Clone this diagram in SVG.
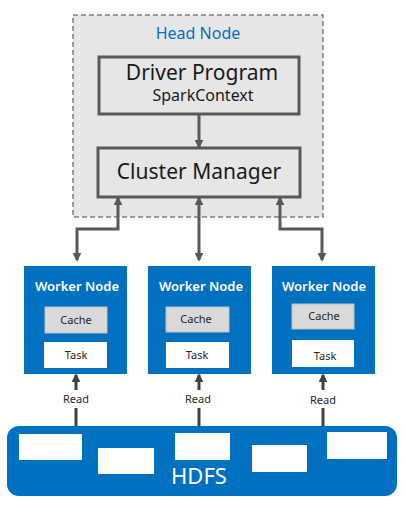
<svg xmlns="http://www.w3.org/2000/svg" width="405" height="507" viewBox="0 0 405 507">
<defs>
<marker id="ah" markerWidth="3" markerHeight="3" refX="2.4" refY="1.5" orient="auto-start-reverse" markerUnits="strokeWidth">
<path d="M0,0 L3,1.5 L0,3 Z" fill="#595959"/>
</marker>
<marker id="ahd" markerWidth="3" markerHeight="3" refX="2.4" refY="1.5" orient="auto-start-reverse" markerUnits="strokeWidth">
<path d="M0,0 L3,1.5 L0,3 Z" fill="#404040"/>
</marker>
<style>
text{font-family:"Noto Sans","Open Sans","Liberation Sans",sans-serif;text-anchor:middle}
.box{fill:#e6e6e6;stroke:#595959;stroke-width:3}
.big{font-size:21px;fill:#1a1a1a}
.worker{fill:#0070c0}
.wt{font-size:13px;font-weight:600;fill:#ffffff}
.cache{fill:#d9d9d9;stroke:#bfbfbf;stroke-width:1}
.task{fill:#ffffff}
.small{font-size:11px;fill:#262626}
.con{fill:none;stroke:#595959;stroke-width:3}
.rd{fill:none;stroke:#404040;stroke-width:3}
.blk{fill:#ffffff}
</style>
</defs>
<g id="head-node">
<rect x="73" y="15" width="250" height="202" fill="#e6e6e6" stroke="#7f7f7f" stroke-width="1.5" stroke-dasharray="5,3"/>
<text x="198" y="39" font-size="16" fill="#0070c0">Head Node</text>
</g>
<g id="driver-program">
<rect class="box" x="99" y="57" width="200" height="57"/>
<text class="big" x="202" y="80">Driver Program</text>
<text x="203" y="101" font-size="16" fill="#1a1a1a">SparkContext</text>
</g>
<g id="cluster-manager">
<rect class="box" x="98" y="148" width="202" height="49"/>
<text class="big" x="199" y="179" font-size="22">Cluster Manager</text>
</g>
<g id="worker-1">
<rect class="worker" x="24" y="266" width="103" height="108"/>
<text class="wt" x="77" y="291">Worker Node</text>
<rect class="cache" x="45" y="307" width="62" height="26"/>
<text class="small" x="76" y="324">Cache</text>
<rect class="task" x="44" y="342" width="63" height="26"/>
<text class="small" x="76" y="359">Task</text>
</g>
<g id="worker-2">
<rect class="worker" x="148" y="266" width="103" height="108"/>
<text class="wt" x="201" y="291">Worker Node</text>
<rect class="cache" x="166" y="307" width="63" height="25"/>
<text class="small" x="196" y="323">Cache</text>
<rect class="task" x="166" y="342" width="63" height="26"/>
<text class="small" x="197" y="359">Task</text>
</g>
<g id="worker-3">
<rect class="worker" x="272" y="266" width="103" height="108"/>
<text class="wt" x="324" y="291">Worker Node</text>
<rect class="cache" x="292" y="304" width="62" height="25"/>
<text class="small" x="324" y="320">Cache</text>
<rect class="task" x="292" y="340" width="62" height="27"/>
<text class="small" x="325" y="360">Task</text>
</g>
<g id="hdfs">
<rect x="7" y="426" width="390" height="70" rx="12" fill="#0070c0"/>
<rect class="blk" x="19" y="434" width="63" height="26"/>
<rect class="blk" x="98" y="448" width="56" height="26"/>
<rect class="blk" x="175" y="433" width="55" height="27"/>
<rect class="blk" x="252" y="445" width="55" height="27"/>
<rect class="blk" x="327" y="432" width="60" height="27"/>
<text x="199" y="484" font-size="22" fill="#ffffff">HDFS</text>
</g>
<g id="connectors">
<path class="con" d="M199,114 L199,147" marker-end="url(#ah)"/>
<path class="con" d="M77,260 L77,229 L118,229 L118,198" marker-start="url(#ah)" marker-end="url(#ah)"/>
<path class="con" d="M199,260 L199,198" marker-start="url(#ah)" marker-end="url(#ah)"/>
<path class="con" d="M322,260 L322,229 L280,229 L280,198" marker-start="url(#ah)" marker-end="url(#ah)"/>
<path class="rd" d="M76,390 L76,375" marker-end="url(#ahd)"/>
<path class="rd" d="M199,390 L199,375" marker-end="url(#ahd)"/>
<path class="rd" d="M323,390 L323,375" marker-end="url(#ahd)"/>
<path class="rd" d="M76,408 L76,426"/>
<path class="rd" d="M199,408 L199,426"/>
<path class="rd" d="M323,408 L323,426"/>
<text class="small" x="76" y="403">Read</text>
<text class="small" x="198" y="403">Read</text>
<text class="small" x="323" y="404">Read</text>
</g>
</svg>
